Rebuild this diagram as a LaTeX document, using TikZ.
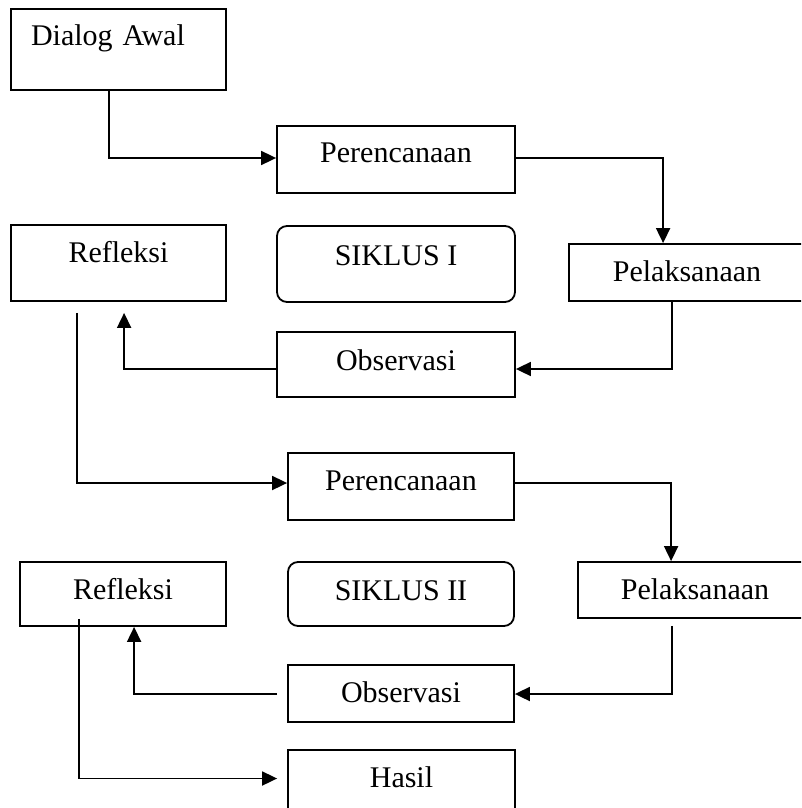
\documentclass[tikz,border=0pt]{standalone}
\usepackage{fontspec}
\setmainfont{Liberation Serif}
\usetikzlibrary{arrows.meta,calc}
\begin{document}
\begin{tikzpicture}[x=1pt,y=-1pt,
  bx/.style={draw=black, line width=1.8pt, rectangle, inner sep=0pt, text height=24pt,
    font=\fontsize{30}{36}\selectfont},
  rbx/.style={bx, rounded corners=10pt},
  arr/.style={line width=1.8pt, -{Triangle[length=15pt,width=14pt]}}]
\useasboundingbox (0,0) rectangle (801,808);
\clip (0,0) rectangle (801,808);
\fill[white] (0,0) rectangle (801,808);
% nodes
\node[bx, minimum width=215pt, minimum height=81pt, text depth=31pt, inner xsep=20pt, text width=175pt, align=left] (dialog) at (118.5,49.5) {Dialog Awal};
\node[bx, minimum width=238pt, minimum height=67pt, text depth=19pt] (per1) at (396,159.5) {Perencanaan};
\node[bx, minimum width=236pt, minimum height=57pt, text depth=7pt] (pel1) at (687,272.5) {Pelaksanaan};
\node[bx, minimum width=238pt, minimum height=65pt, text depth=13pt] (obs1) at (396,364.5) {Observasi};
\node[bx, minimum width=215pt, minimum height=76pt, text depth=26pt] (ref1) at (118.5,263) {Refleksi};
\node[rbx, minimum width=238pt, minimum height=76pt, text depth=22pt] (sik1) at (396,264) {SIKLUS I};
\node[bx, minimum width=226pt, minimum height=67pt, text depth=17pt] (per2) at (401,486.5) {Perencanaan};
\node[bx, minimum width=234pt, minimum height=56pt, text depth=6pt] (pel2) at (695,590) {Pelaksanaan};
\node[bx, minimum width=226pt, minimum height=57pt, text depth=7pt] (obs2) at (401,693.5) {Observasi};
\node[bx, minimum width=206pt, minimum height=64pt, text depth=14pt] (ref2) at (123,594) {Refleksi};
\node[rbx, minimum width=226pt, minimum height=64pt, text depth=12pt] (sik2) at (401,594) {SIKLUS II};
\node[bx, minimum width=227pt, minimum height=65pt, text depth=15pt] (hasil) at (401.5,782.5) {Hasil};
% connectors
\draw[arr] ($(dialog.south west)+(99,0)$) |- ($(per1.west)+(0,-1.5)$);
\draw[arr] ($(per1.east)+(0,-1.5)$) -| ($(pel1.north west)+(95,0)$);
\draw[arr] ($(pel1.south west)+(104,0)$) |- ($(obs1.east)+(0,4.5)$);
\draw[arr] ($(obs1.west)+(0,4.5)$) -| ($(ref1.south west)+(114,11)$);
\draw[arr] ($(ref1.south west)+(67,11)$) |- ($(per2.west)+(0,-3.5)$);
\draw[arr] ($(per2.east)+(0,-3.5)$) -| ($(pel2.north west)+(94,0)$);
\draw[arr] ($(pel2.south west)+(95,7)$) |- ($(obs2.east)+(0,0.5)$);
\draw[arr] ($(obs2.west)+(-10,0.5)$) -| ($(ref2.south west)+(115,0)$);
\draw[arr] ($(ref2.south west)+(60,-8)$) |- ($(hasil.west)+(-10,-4)$);
\end{tikzpicture}
\end{document}
